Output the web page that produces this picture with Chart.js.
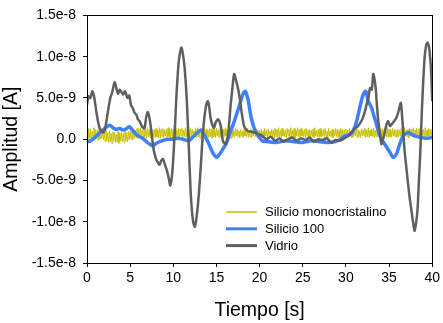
<!DOCTYPE html>
<html>
<head>
<meta charset="utf-8">
<title>Amplitud vs tiempo</title>
<script src="https://cdn.jsdelivr.net/npm/chart.js@4.4.1/dist/chart.umd.min.js"></script>
<style>
  html, body { margin: 0; padding: 0; background: #fff; }
  #wrap { width: 443px; height: 323px; }
</style>
</head>
<body>
<div id="wrap"><canvas id="grafico" width="443" height="323"></canvas></div>
<script>
// Valores, en nA (1e-9 A)
const etiquetas = ['Silicio monocristalino', 'Silicio 100', 'Vidrio'];
const colores = ['#c8c000', '#3f80ff', '#5f5f5f'];

// Silicio monocristalino: muestreo cada 0.1 s desde t = 0
const pasoMono = 0.1;
const monocristalino = [
  1.1, 0.0, 1.3, 0.1, 1.2, -0.1, 1.0, 0.2, 1.4, 0.0, 1.2, 0.1, 1.1, -0.2, 1.3, 0.0, 1.0, 0.1, 1.2, -0.1,
  0.9, -0.3, 1.1, -0.2, 0.8, -0.4, 1.0, -0.3, 0.7, -0.5, 0.9, -0.2, 0.8, -0.4, 0.6, -0.3, 0.9, -0.5, 0.8, -0.2,
  0.9, -0.3, 0.7, -0.4, 1.0, -0.2, 0.8, -0.3, 0.9, -0.1, 1.0, 0.0, 1.1, -0.1, 1.2, 0.1, 1.1, 0.2, 1.3, 0.1,
  1.2, 0.2, 1.4, 0.1, 1.1, 0.3, 1.3, 0.2, 1.2, 0.1, 1.4, 0.3, 1.2, 0.2, 1.3, 0.1, 1.1, 0.3, 1.2, 0.2,
  1.3, 0.3, 1.1, 0.2, 1.4, 0.1, 1.2, 0.3, 1.3, 0.2, 1.1, 0.4, 1.2, 0.2, 1.4, 0.3, 1.2, 0.1, 1.3, 0.2,
  1.2, 0.3, 1.4, 0.2, 1.1, 0.3, 1.3, 0.1, 1.2, 0.4, 1.3, 0.2, 1.1, 0.3, 1.4, 0.2, 1.2, 0.3, 1.1, 0.2,
  1.3, 0.2, 1.2, 0.4, 1.0, 0.3, 1.3, 0.2, 1.4, 0.3, 1.2, 0.1, 1.3, 0.3, 1.1, 0.2, 1.4, 0.4, 1.2, 0.3,
  1.1, 0.2, 1.3, 0.3, 1.2, 0.1, 1.4, 0.3, 1.2, 0.2, 1.3, 0.4, 1.1, 0.2, 1.2, 0.3, 1.4, 0.2, 1.2, 0.3,
  1.3, 0.4, 1.1, 0.2, 1.2, 0.3, 1.3, 0.1, 1.2, 0.3, 1.1, 0.2, 1.3, 0.4, 1.2, 0.3, 1.0, 0.2, 1.2, 0.3,
  1.0, 0.2, 1.2, 0.4, 1.1, 0.3, 1.3, 0.2, 1.0, 0.3, 1.2, 0.2, 1.1, 0.4, 1.3, 0.3, 1.2, 0.2, 1.1, 0.3,
  1.1, 0.4, 1.2, 0.2, 1.0, 0.3, 1.3, 0.4, 1.1, 0.2, 1.2, 0.3, 1.0, 0.4, 1.2, 0.3, 1.1, 0.2, 1.3, 0.3,
  1.2, 0.3, 1.4, 0.3, 1.1, 0.2, 1.3, 0.4, 1.2, 0.3, 1.1, 0.2, 1.3, 0.4, 1.2, 0.3, 1.4, 0.2, 1.1, 0.3,
  1.3, 0.2, 1.1, 0.4, 1.4, 0.3, 1.2, 0.2, 1.3, 0.4, 1.1, 0.3, 1.2, 0.2, 1.3, 0.4, 1.1, 0.3, 1.2, 0.2,
  1.1, 0.3, 1.2, 0.2, 1.4, 0.4, 1.1, 0.3, 1.2, 0.2, 1.3, 0.3, 1.1, 0.4, 1.2, 0.2, 1.3, 0.3, 1.0, 0.2,
  1.3, 0.4, 1.0, 0.3, 1.2, 0.2, 1.1, 0.4, 1.3, 0.3, 1.2, 0.2, 1.1, 0.3, 1.3, 0.4, 1.2, 0.2, 1.1, 0.3,
  1.2, 0.2, 1.1, 0.3, 1.3, 0.4, 1.0, 0.2, 1.2, 0.3, 1.1, 0.4, 1.3, 0.2, 1.2, 0.3, 1.0, 0.2, 1.2, 0.4,
  1.1, 0.4, 1.3, 0.2, 1.2, 0.3, 1.4, 0.2, 1.1, 0.4, 1.2, 0.3, 1.3, 0.2, 1.1, 0.3, 1.2, 0.4, 1.3, 0.2,
  1.2, 0.3, 1.3, 0.2, 1.1, 0.4, 1.2, 0.3, 1.4, 0.2, 1.2, 0.3, 1.1, 0.2, 1.3, 0.4, 1.2, 0.3, 1.1, 0.2,
  1.2, 0.3, 1.1, 0.4, 1.3, 0.2, 1.2, 0.3, 1.4, 0.4, 1.1, 0.3, 1.2, 0.2, 1.3, 0.4, 1.2, 0.3, 1.4, 0.2,
  1.1, 0.3, 1.3, 0.2, 1.2, 0.4, 1.3, 0.3, 1.1, 0.4, 1.2, 0.3, 1.4, 0.2, 1.1, 0.4, 1.3, 0.3, 1.2, 0.4,
  1.3
];

// Silicio 100
const tSilicio100 = [
  0.0, 0.4, 0.9, 1.3, 1.7, 2.2, 2.6, 3.0, 3.4, 3.8, 4.2, 4.6, 4.9, 5.2, 5.5, 5.9,
  6.3, 6.7, 7.0, 7.3, 7.6, 7.9, 8.2, 8.7, 9.3, 9.9, 10.5, 11.1, 11.8, 12.2, 12.6, 12.9,
  13.2, 13.55, 13.8, 14.05, 14.3, 14.55, 14.8, 15.05, 15.3, 15.5, 15.8, 16.1, 16.4, 16.65, 16.95, 17.2,
  17.45, 17.7, 18.05, 18.35, 18.5, 18.7, 18.95, 19.15, 19.35, 19.7, 20.0, 20.3, 21.0, 22.0,
  23.0, 24.0, 25.0, 26.0, 27.0, 28.0, 29.0, 29.9, 30.3, 30.7, 31.0, 31.25, 31.6, 32.0,
  32.3, 32.6, 32.97, 33.2, 33.43, 33.7, 33.93, 34.2, 34.5, 34.8, 35.1, 35.47, 35.85, 36.05,
  36.24, 36.45, 36.62, 37.2, 37.6, 37.97, 38.7, 39.3, 40.0
];
const silicio100 = [
  -0.3, -0.2, 0.2, 0.6, 1.0, 1.4, 1.7, 1.4, 1.2, 1.3, 1.1, 1.3, 1.5, 1.2, 0.8, 0.4,
  0.2, -0.1, -0.4, -0.6, -0.8, -0.6, -0.4, -0.2, 0.0, 0.0, 0.1, 0.0, -0.2, 0.2, 0.6, 0.9,
  1.1, 0.6, 0.1, -0.4, -1.0, -1.6, -2.0, -2.2, -1.9, -1.6, -1.1, -0.6, 0.2, 1.0, 1.8, 2.6,
  3.4, 4.2, 5.4, 5.8, 5.4, 4.6, 3.0, 2.1, 1.4, 0.6, 0.2, -0.2, -0.3, -0.4,
  -0.2, -0.3, -0.4, -0.2, -0.3, -0.4, -0.2, 0.4, 0.5, 0.8, 1.4, 2.2, 3.8, 5.4,
  5.8, 4.6, 3.8, 3.0, 2.2, 1.2, 0.4, -0.1, -0.6, -1.1, -1.6, -2.2, -1.8, -1.2,
  -0.6, 0.0, 0.4, 0.8, 0.6, 0.4, 0.2, 0.1, 0.2
];

// Vidrio
const tVidrio = [
  0.0, 0.2, 0.4, 0.6, 0.8, 1.1, 1.45, 1.85, 2.1, 2.4, 2.7, 2.9, 3.2, 3.4, 3.6, 3.8,
  4.0, 4.2, 4.4, 4.7, 4.9, 5.1, 5.3, 5.5, 5.7, 5.9, 6.1, 6.35, 6.65, 6.85, 7.05, 7.3,
  7.5, 7.75, 8.0, 8.2, 8.4, 8.6, 8.8, 9.0, 9.2, 9.45, 9.65, 9.9, 10.15, 10.35, 10.6, 10.8,
  10.95, 11.1, 11.3, 11.55, 11.8, 12.05, 12.3, 12.5, 12.7, 12.95, 13.2, 13.45, 13.75, 14.0,
  14.15, 14.35, 14.7, 14.9, 15.2, 15.5, 15.75, 16.05, 16.35, 16.65, 16.85, 17.05, 17.3, 17.6,
  17.9, 18.2, 18.6, 19.1, 19.7, 20.3, 20.8, 21.3, 21.8, 22.3, 22.8, 23.3, 23.8, 24.3,
  24.8, 25.3, 25.8, 26.3, 26.8, 27.3, 27.8, 28.3, 28.8, 29.3, 29.8, 30.3, 30.7, 31.05,
  31.4, 31.8, 32.1, 32.4, 32.6, 32.8, 33.0, 33.16, 33.3, 33.45, 33.6, 33.75, 33.95, 34.12,
  34.3, 34.45, 34.7, 34.9, 35.1, 35.3, 35.6, 35.85, 36.1, 36.36, 36.55, 36.8, 37.0, 37.2,
  37.4, 37.6, 37.8, 37.97, 38.15, 38.3, 38.45, 38.6, 38.8, 38.95, 39.12, 39.3, 39.45, 39.62,
  39.8, 39.9, 40.0
];
const vidrio = [
  4.2, 5.2, 5.0, 5.8, 5.3, 3.2, 1.4, 0.8, 1.3, 3.2, 5.0, 5.6, 6.9, 6.2, 5.5, 6.0,
  5.7, 5.4, 5.8, 5.0, 5.3, 4.1, 3.8, 3.2, 3.0, 2.4, 2.2, 1.6, 1.3, 2.6, 3.3, 2.2,
  0.5, -1.4, -2.4, -2.8, -3.1, -2.6, -2.4, -3.0, -3.6, -4.6, -5.6, -3.8, 0.6, 5.0, 9.1, 10.6,
  11.1, 10.4, 8.8, 5.0, -1.0, -7.1, -10.0, -10.6, -9.4, -6.8, -3.0, 1.0, 3.8, 4.6,
  4.0, 2.4, 1.4, 2.0, 2.4, 1.6, -0.2, -0.6, 0.6, 4.2, 6.2, 7.9, 7.0, 5.6,
  3.4, 1.6, 1.0, 0.9, 0.7, 0.4, 0.0, 0.3, -0.2, 0.1, -0.3, 0.0, 0.2, -0.2,
  0.1, -0.1, 0.2, -0.3, 0.0, -0.1, 0.1, -0.4, -0.1, -0.2, 0.1, 0.4, 0.9, 1.3,
  1.6, 2.2, 3.0, 4.2, 5.0, 6.2, 6.0, 7.9, 7.4, 6.2, 4.0, 2.2, 0.6, -0.6,
  0.0, 0.6, 1.8, 2.2, 1.6, 1.8, 2.2, 2.6, 3.4, 4.4, 2.2, -1.4, -3.4, -5.4,
  -7.2, -8.7, -10.2, -11.1, -10.0, -8.5, -5.2, -2.0, 3.4, 6.8, 9.9, 11.4, 11.7, 11.2,
  9.4, 7.5, 4.6
];

const marcasY = [-1.5e-8, -1.0e-8, -5e-9, 0, 5e-9, 1.0e-8, 1.5e-8];
const nA = 1e-9;

function puntos(tiempos, valores) {
  return valores.map((v, i) => ({ x: tiempos[i], y: v * nA }));
}

const tMono = monocristalino.map((v, i) => +(i * pasoMono).toFixed(1));

const fuente = "'Liberation Sans', Arial, sans-serif";

// Marco completo alrededor del área de trazado
const marco = {
  id: 'marco',
  afterDraw(chart) {
    const { ctx, chartArea: a } = chart;
    ctx.save();
    ctx.strokeStyle = '#000';
    ctx.lineWidth = 1;
    ctx.strokeRect(Math.round(a.left) + 0.5, Math.round(a.top) + 0.5,
      Math.round(a.right - a.left), Math.round(a.bottom - a.top));
    ctx.restore();
  }
};

// Leyenda dentro del gráfico, abajo a la derecha
const leyenda = {
  id: 'leyenda',
  afterDraw(chart) {
    const { ctx } = chart;
    const x0 = 226, x1 = 257, y0 = 212, dy = 16.8;
    ctx.save();
    ctx.font = '13px ' + fuente;
    ctx.textBaseline = 'middle';
    chart.data.datasets.forEach((ds, i) => {
      const y = y0 + i * dy;
      ctx.strokeStyle = ds.borderColor;
      ctx.lineWidth = ds.legendWidth;
      ctx.beginPath();
      ctx.moveTo(x0, y);
      ctx.lineTo(x1, y);
      ctx.stroke();
      ctx.fillStyle = '#000';
      ctx.fillText(ds.label, 265, y + 0.5);
    });
    ctx.restore();
  }
};

new Chart(document.getElementById('grafico'), {
  type: 'line',
  data: {
    datasets: [{
      label: etiquetas[0],
      data: puntos(tMono, monocristalino),
      borderColor: colores[0],
      borderWidth: 1,
      legendWidth: 1.5,
      tension: 0,
      order: 2
    }, {
      label: etiquetas[1],
      data: puntos(tSilicio100, silicio100),
      borderColor: colores[1],
      borderWidth: 3.5,
      legendWidth: 3,
      tension: 0.3,
      order: 1
    }, {
      label: etiquetas[2],
      data: puntos(tVidrio, vidrio),
      borderColor: colores[2],
      borderWidth: 2.5,
      legendWidth: 3,
      tension: 0.25,
      order: 0
    }]
  },
  options: {
    responsive: false,
    animation: false,
    devicePixelRatio: 1,
    parsing: false,
    layout: { padding: { top: 14, right: 9, left: 0, bottom: 0 } },
    elements: { point: { radius: 0 } },
    plugins: { legend: { display: false }, tooltip: { enabled: false } },
    scales: {
      x: {
        type: 'linear',
        min: 0,
        max: 40,
        ticks: { stepSize: 5, color: '#000', padding: 3, maxRotation: 0, font: { family: fuente, size: 14 } },
        grid: { drawOnChartArea: false, drawTicks: true, tickLength: 4, color: '#000' },
        border: { color: '#000', width: 1 },
        title: { display: true, text: 'Tiempo [s]', color: '#000', padding: { top: 0, bottom: 1 }, font: { family: fuente, size: 19.5 } },
        afterFit(s) { s.height = 60; }
      },
      y: {
        min: -1.5e-8,
        max: 1.5e-8,
        afterBuildTicks(s) { s.ticks = marcasY.map(v => ({ value: v })); },
        ticks: {
          color: '#000',
          padding: 7,
          font: { family: fuente, size: 14 },
          callback: v => Math.abs(v) < 1e-15 ? '0.0' : v.toExponential(1)
        },
        grid: { drawOnChartArea: false, drawTicks: true, tickLength: 4, color: '#000' },
        border: { color: '#000', width: 1 },
        title: { display: true, text: 'Amplitud [A]', color: '#000', padding: { top: 0, bottom: 0 }, font: { family: fuente, size: 19.5 } },
        afterFit(s) { s.width = 87; }
      }
    }
  },
  plugins: [marco, leyenda]
});
</script>
</body>
</html>
